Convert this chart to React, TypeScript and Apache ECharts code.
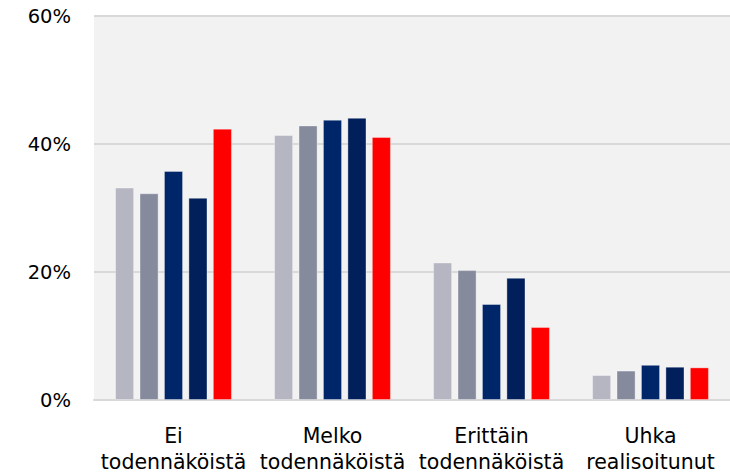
import React, { useEffect, useRef } from "react";
import * as echarts from "echarts";

const categories = ["Ei\ntodennäköistä", "Melko\ntodennäköistä", "Erittäin\ntodennäköistä", "Uhka\nrealisoitunut"];
const seriesNames = ["Sarja 1", "Sarja 2", "Sarja 3", "Sarja 4", "Sarja 5"];
const series1 = [33.2, 41.4, 21.5, 3.9];
const series2 = [32.3, 42.9, 20.3, 4.6];
const series3 = [35.8, 43.8, 15.0, 5.5];
const series4 = [31.6, 44.1, 19.1, 5.2];
const series5 = [42.4, 41.1, 11.4, 5.1];
const colors = ["#b6b6c2", "#858a9d", "#00266a", "#001f5b", "#ff0000"];
const yTicks = [0, 20, 40, 60];

export default function App() {
  const ref = useRef<HTMLDivElement>(null);
  useEffect(() => {
    if (!ref.current) return;
    const chart = echarts.init(ref.current, null, { renderer: "svg" });
    const all = [series1, series2, series3, series4, series5];
    chart.setOption({
      animation: false,
      backgroundColor: "#ffffff",
      textStyle: { fontFamily: "DejaVu Sans" },
      grid: {
        show: true,
        left: 94,
        right: -12,
        top: 16,
        bottom: 75,
        backgroundColor: "#f2f2f2",
        borderWidth: 0,
      },
      xAxis: {
        type: "category",
        data: categories,
        axisLine: { show: true, lineStyle: { color: "#d9d9d9", width: 2 } },
        axisTick: { show: false },
        axisLabel: {
          color: "#000000",
          fontSize: 20.5,
          lineHeight: 26,
          margin: 23,
          interval: 0,
          fontFamily: "DejaVu Sans",
        },
      },
      yAxis: {
        type: "value",
        min: yTicks[0],
        max: yTicks[yTicks.length - 1],
        interval: 20,
        axisLine: { show: false },
        axisTick: { show: false },
        splitLine: { show: true, lineStyle: { color: "#d9d9d9", width: 2 } },
        axisLabel: {
          color: "#000000",
          fontSize: 19.5,
          margin: 23,
          formatter: "{value}%",
          fontFamily: "DejaVu Sans",
        },
      },
      series: all.map((d, i) => ({
        name: seriesNames[i],
        type: "bar",
        data: d,
        barGap: "28%",
        barCategoryGap: "26.5%",
        itemStyle: {
          color: colors[i],
          borderColor: "rgba(255,255,255,0.35)",
          borderWidth: 1,
        },
      })),
    });
    return () => chart.dispose();
  }, []);
  return <div ref={ref} style={{ width: 730, height: 475, position: "absolute", left: 0, top: 0 }} />;
}
